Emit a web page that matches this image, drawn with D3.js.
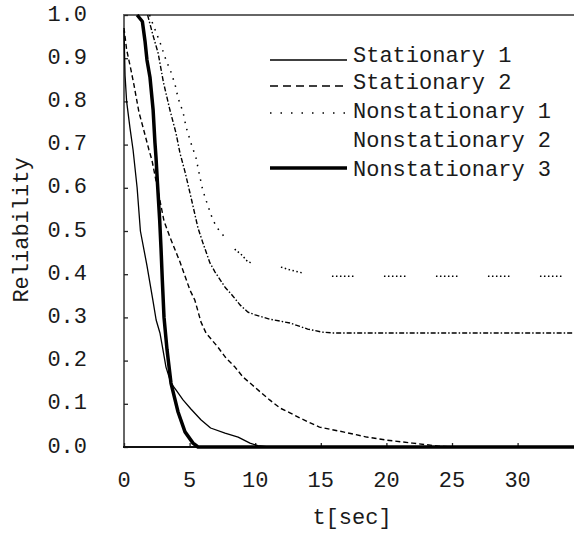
<!DOCTYPE html>
<html><head><meta charset="utf-8">
<script src="https://cdn.jsdelivr.net/npm/d3@7"></script>
<style>
html,body{margin:0;padding:0;background:#fff;}
svg{display:block;}
text{font-family:"Liberation Mono","DejaVu Sans Mono",monospace;fill:#1a1a1a;}
</style></head>
<body>
<svg id="chart" width="574" height="533"></svg>
<script>
// ---- data ----
const seriesNames = ["Stationary 1","Stationary 2","Nonstationary 1","Nonstationary 2","Nonstationary 3"];
const xTickValues = [0,5,10,15,20,25,30];
const yTickValues = [0,0.1,0.2,0.3,0.4,0.5,0.6,0.7,0.8,0.9,1.0];
const yTickLabels = ["0.0","0.1","0.2","0.3","0.4","0.5","0.6","0.7","0.8","0.9","1.0"];

const s1T = [0,0.08,0.2,0.45,0.69,1.0,1.25,1.75,2.2,2.45,2.74,2.97,3.2,3.58,3.96,4.5,5.1,5.86,6.6,7.7,8.7,9.6,10.2,11,35];
const s1R = [0.965,0.86,0.8,0.74,0.688,0.6,0.5,0.42,0.34,0.294,0.264,0.225,0.185,0.148,0.132,0.109,0.088,0.063,0.044,0.032,0.023,0.009,0.003,0,0];

const s2T = [0,0.2,0.53,0.76,1.14,1.45,1.9,2.13,3.05,3.5,4.27,5.03,5.4,5.87,6.25,7.16,7.77,8.46,9.07,9.76,10.4,11.1,11.9,12.65,13.4,14.9,16.7,18.5,20,22,24,25,35];
const s2R = [0.97,0.92,0.873,0.838,0.775,0.74,0.688,0.664,0.523,0.486,0.428,0.363,0.34,0.289,0.264,0.231,0.206,0.185,0.162,0.144,0.127,0.109,0.09,0.079,0.067,0.046,0.035,0.023,0.016,0.009,0.002,0,0];

const n1T = [1.95,2.06,2.74,3.2,3.58,3.9,4.12,4.5,4.73,5.1,5.49,5.75,6.0,6.3,6.78,7.16,7.85,8.23,9.0,9.45,10.5,11.9,12.65,13.6,15.85,35];
const n1R = [1.0,0.99,0.937,0.896,0.868,0.838,0.808,0.775,0.741,0.704,0.669,0.63,0.595,0.567,0.525,0.505,0.479,0.463,0.444,0.428,0.422,0.417,0.41,0.403,0.395,0.395];

const n2T = [1.8,2.0,2.2,2.6,3.0,3.5,3.96,4.27,4.65,5.03,5.64,6.02,6.55,6.94,7.7,8.23,8.84,9.45,10.0,11.1,12.65,14.0,15.1,15.9,35];
const n2R = [1.0,0.977,0.954,0.912,0.845,0.78,0.727,0.68,0.637,0.588,0.507,0.472,0.426,0.405,0.37,0.352,0.329,0.312,0.306,0.296,0.287,0.273,0.266,0.264,0.264];

const n3T = [1.0,1.4,1.6,1.75,1.98,2.22,2.36,2.44,2.55,2.72,2.82,2.92,3.05,3.28,3.58,4.12,4.65,5.26,5.64,35];
const n3R = [1.0,0.985,0.94,0.896,0.856,0.78,0.704,0.67,0.611,0.525,0.461,0.387,0.3,0.225,0.148,0.081,0.035,0.009,0,0];

// ---- chart ----
const svg = d3.select("#chart");
const x = d3.scaleLinear().domain([0,35]).range([124, 124 + 35*13.12]);
const y = d3.scaleLinear().domain([0,1]).range([447,15]);

const dotCluster = "1.5,2.5,1.5,2.5,1.5,2.5,1.5,2.5,1.5,2.5,1.5,30.5";
const styles = [
  {w:1.3, dash:null},
  {w:1.4, dash:"5,3"},
  {w:1.5, dash:"1.5,6"},
  {w:1.4, dash:"5,2,1.5,2"},
  {w:3.5, dash:null}
];
const legendDash = [null,"8,5","1.5,9",null,null];

const series = [
  {t:s1T, r:s1R}, {t:s2T, r:s2R}, {t:n1T, r:n1R}, {t:n2T, r:n2R}, {t:n3T, r:n3R}
];

// frame: left axis, top border
svg.append("line").attr("x1",124).attr("x2",124).attr("y1",15).attr("y2",448)
  .attr("stroke","#333").attr("stroke-width",1.5);
svg.append("line").attr("x1",123).attr("x2",574).attr("y1",15).attr("y2",15)
  .attr("stroke","#666").attr("stroke-width",2);

// y axis (ticks inside)
const yAxis = d3.axisRight(y).tickValues(yTickValues).tickSize(4).tickFormat("");
const gy = svg.append("g").attr("transform","translate(124,0)").call(yAxis);
gy.select(".domain").remove();
gy.selectAll(".tick line").attr("stroke","#222").attr("stroke-width",1.3);

svg.append("g").selectAll("text").data(yTickValues).join("text")
  .attr("x",87).attr("y",d=>y(d)).attr("text-anchor","end")
  .attr("dominant-baseline","central").attr("font-size",22)
  .text((d,i)=>yTickLabels[i]);

// x axis (ticks inside)
const xAxis = d3.axisTop(x).tickValues(xTickValues).tickSize(4).tickFormat("");
const gx = svg.append("g").attr("transform","translate(0,447)").call(xAxis);
gx.select(".domain").remove();
gx.selectAll(".tick line").attr("stroke","#222").attr("stroke-width",1.3);
svg.append("line").attr("x1",123).attr("x2",574).attr("y1",447).attr("y2",447)
  .attr("stroke","#111").attr("stroke-width",2);

svg.append("g").selectAll("text").data(xTickValues).join("text")
  .attr("x",d=>x(d)).attr("y",481).attr("text-anchor","middle")
  .attr("dominant-baseline","central").attr("font-size",22)
  .text(d=>d);

svg.append("text").attr("x",352).attr("y",518).attr("text-anchor","middle")
  .attr("dominant-baseline","central").attr("font-size",22).text("t[sec]");

svg.append("text").attr("transform","translate(22,230) rotate(-90)")
  .attr("text-anchor","middle").attr("dominant-baseline","central")
  .attr("font-size",22).text("Reliability");

// lines
const line = d3.line().x(d=>x(d[0])).y(d=>y(d[1]));
series.forEach((s,i)=>{
  const pts = s.t.map((t,j)=>[t, s.r[j]]);
  if (i === 2) {
    // dotted series: sparse dots on the steep part, dot clusters on the tail
    const k = s.t.indexOf(7.85);
    const head = pts.slice(0, k+1), tail = pts.slice(k);
    svg.append("path").datum(head).attr("d",line)
      .attr("fill","none").attr("stroke","#000")
      .attr("stroke-width",styles[i].w).attr("stroke-dasharray",styles[i].dash);
    const tp = svg.append("path").datum(tail).attr("d",line)
      .attr("fill","none").attr("stroke","#000")
      .attr("stroke-width",styles[i].w).attr("stroke-dasharray",dotCluster);
    const tmp = svg.append("path").attr("d", line(tail.slice(0, tail.length-1)));
    const L0 = tmp.node().getTotalLength();
    tmp.remove();
    const period = 52;
    tp.attr("stroke-dashoffset", period - (L0 % period));
    return;
  }
  svg.append("path").datum(pts).attr("d",line)
    .attr("fill","none").attr("stroke","#000")
    .attr("stroke-width",styles[i].w)
    .attr("stroke-dasharray",styles[i].dash)
    .attr("stroke-linejoin","round");
});

// legend
const legY = [56,83,112,141,170];
const lineY = [60,86,113,141,168];
seriesNames.forEach((name,i)=>{
  if (i !== 3) {
    svg.append("line").attr("x1",270).attr("x2",347)
      .attr("y1",lineY[i]).attr("y2",lineY[i])
      .attr("stroke","#000").attr("stroke-width",styles[i].w)
      .attr("stroke-dasharray",legendDash[i]);
  }
  svg.append("text").attr("x",353).attr("y",legY[i])
    .attr("dominant-baseline","central").attr("font-size",22).text(name);
});
</script>
</body></html>
